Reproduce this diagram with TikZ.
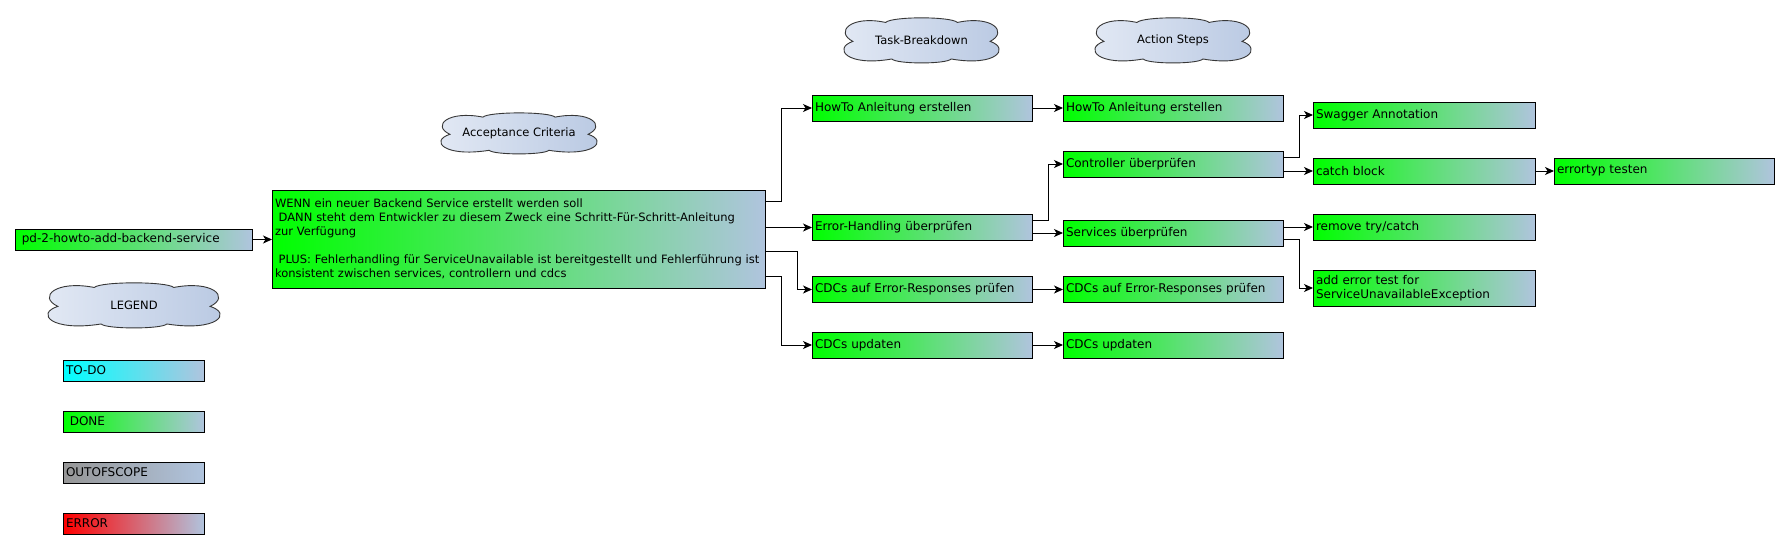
\documentclass[tikz,border=0pt]{standalone}
\usepackage{fontspec}
\setmainfont{DejaVu Sans}
\usepackage{tikz}
\usetikzlibrary{arrows.meta, calc, backgrounds}

\definecolor{lsblue}{RGB}{176,196,222}
\definecolor{donegreen}{RGB}{0,255,0}
\definecolor{todocyan}{RGB}{0,255,255}
\definecolor{scopegray}{RGB}{150,150,150}
\definecolor{errred}{RGB}{255,0,0}
\definecolor{cloudlight}{RGB}{228,234,245}
\definecolor{clouddark}{RGB}{184,200,226}
\definecolor{cloudline}{RGB}{55,55,55}

\tikzset{
    box/.style={draw=black, line width=1pt, rectangle, anchor=west, inner xsep=2.5pt, inner ysep=0pt,
        align=left, font=\fontsize{12}{14}\selectfont, left color=donegreen, right color=lsblue},
    colbox/.style={box, text width=215pt, minimum height=26pt},
    legendbox/.style={box, text width=136pt, minimum height=21pt},
    cloudlabel/.style={inner sep=0pt, font=\fontsize{11.5}{13}\selectfont},
    cloudline/.style={draw=cloudline, line width=0.9pt, left color=cloudlight, right color=clouddark},
    conn/.style={draw, line width=1pt, -{Stealth[length=9pt, width=8pt, inset=2.5pt]}}
}

\begin{document}
\begin{tikzpicture}[x=1pt, y=-1pt]

    % Column headings
    \node[cloudlabel] (acc) at (519,133.5) {Acceptance Criteria};
    \node[cloudlabel] (tb) at (921.5,40.5) {Task-Breakdown};
    \node[cloudlabel] (as) at (1173,40.5) {Action Steps};
    \node[cloudlabel] (lgd) at (134,305.5) {LEGEND};

    % Story and acceptance criteria
    \node[box, text width=232pt, minimum height=21pt] (story) at (15,239.5) {\hspace*{3.8pt}pd-2-howto-add-backend-service};
    \node[box, text width=488pt, minimum height=98pt, font=\fontsize{11.5}{14}\selectfont] (crit) at (272,239)
        {WENN ein neuer Backend Service erstellt werden soll\\
        \hspace*{3.7pt}DANN steht dem Entwickler zu diesem Zweck eine Schritt-Für-Schritt-Anleitung\\
        zur Verfügung\\[14pt]
        \hspace*{3.7pt}PLUS: Fehlerhandling für ServiceUnavailable ist bereitgestellt und Fehlerführung ist\\
        konsistent zwischen services, controllern und cdcs};

    % Task breakdown
    \node[colbox] (t1) at (812,108) {HowTo Anleitung erstellen};
    \node[colbox] (t2) at (812,227.5) {Error-Handling überprüfen};
    \node[colbox] (t3) at (812,289.5) {CDCs auf Error-Responses prüfen};
    \node[colbox] (t4) at (812,345) {CDCs updaten};

    % Action steps
    \node[colbox] (a1) at (1063,108) {HowTo Anleitung erstellen};
    \node[colbox] (a2) at (1063,164) {Controller überprüfen};
    \node[colbox] (a3) at (1063,233) {Services überprüfen};
    \node[colbox] (a4) at (1063,289.5) {CDCs auf Error-Responses prüfen};
    \node[colbox] (a5) at (1063,345) {CDCs updaten};

    % Sub steps
    \node[colbox, text width=217pt] (s1) at (1313,115) {Swagger Annotation};
    \node[colbox, text width=217pt] (s2) at (1313,171) {catch block};
    \node[colbox, text width=217pt] (s3) at (1313,227) {remove try/catch};
    \node[colbox, text width=217pt, minimum height=36pt] (s4) at (1313,288)
        {add error test for\\ServiceUnavailableException};
    \node[colbox] (s5) at (1554,171) {errortyp testen};

    % Legend
    \node[legendbox, left color=todocyan] (todo) at (63,370.5) {TO-DO};
    \node[legendbox] (done) at (63,421.5) {\hspace*{3.8pt}DONE};
    \node[legendbox, left color=scopegray] (oos) at (63,472.5) {OUTOFSCOPE};
    \node[legendbox, left color=errred] (err) at (63,523.5) {ERROR};

    % Clouds behind the headings
    \begin{scope}[on background layer]
        \fill[white] (0,0) rectangle (1790,549);
        \foreach \c/\w/\h in {acc/157/40, tb/156/44, as/157/44, lgd/173/44}
            \path[cloudline, shift={(\c.center)}, xscale=\w, yscale=\h]
                (-0.44,0.02) .. controls (-0.56,-0.20) and (-0.45,-0.58) .. (-0.23,-0.41)
                .. controls (-0.19,-0.55) and (0.19,-0.55) .. (0.23,-0.41)
                .. controls (0.45,-0.58) and (0.56,-0.20) .. (0.44,0.02)
                .. controls (0.57,0.18) and (0.48,0.60) .. (0.19,0.42)
                .. controls (0.16,0.54) and (-0.16,0.54) .. (-0.19,0.42)
                .. controls (-0.48,0.60) and (-0.57,0.18) .. (-0.44,0.02) -- cycle;
    \end{scope}

    % Connectors
    \draw[conn] (story.east) -- (crit.west |- story.east);
    \draw[conn] ($(crit.north east)!.125!(crit.south east)$) -- ++(15,0) |- (t1.west);
    \draw[conn] (crit.east |- t2.west) -- (t2.west);
    \draw[conn] ($(crit.north east)!.625!(crit.south east)$) -- ++(31,0) |- (t3.west);
    \draw[conn] ($(crit.north east)!.875!(crit.south east)$) -- ++(15,0) |- (t4.west);

    \draw[conn] (t1.east) -- (a1.west);
    \draw[conn] ($(t2.north east)!.25!(t2.south east)$) -- ++(15,0) |- (a2.west);
    \draw[conn] (t2.east |- a3.west) -- (a3.west);
    \draw[conn] (t3.east) -- (a4.west);
    \draw[conn] (t4.east) -- (a5.west);

    \draw[conn] ($(a2.north east)!.25!(a2.south east)$) -- ++(15,0) |- (s1.west);
    \draw[conn] (a2.east |- s2.west) -- (s2.west);
    \draw[conn] (a3.east |- s3.west) -- (s3.west);
    \draw[conn] ($(a3.north east)!.75!(a3.south east)$) -- ++(15,0) |- (s4.west);
    \draw[conn] (s2.east) -- (s5.west);

\end{tikzpicture}
\end{document}
